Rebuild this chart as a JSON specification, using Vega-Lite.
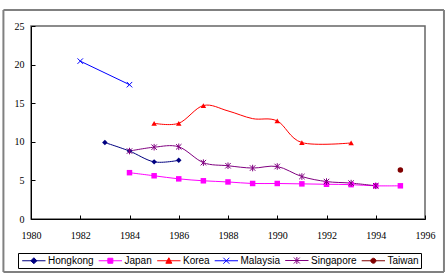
{
  "$schema": "https://vega.github.io/schema/vega-lite/v6.json",
  "width": 394,
  "height": 193,
  "autosize": {"type": "none"},
  "padding": {"left": 31, "top": 26, "right": 23, "bottom": 54},
  "background": "white",
  "data": {
    "values": [
      {"country": "Hongkong", "year": 1983, "value": 9.9},
      {"country": "Hongkong", "year": 1984, "value": 8.8},
      {"country": "Hongkong", "year": 1985, "value": 7.4},
      {"country": "Hongkong", "year": 1986, "value": 7.6},
      {"country": "Japan", "year": 1984, "value": 6.0},
      {"country": "Japan", "year": 1985, "value": 5.6},
      {"country": "Japan", "year": 1986, "value": 5.2},
      {"country": "Japan", "year": 1987, "value": 4.95},
      {"country": "Japan", "year": 1988, "value": 4.8},
      {"country": "Japan", "year": 1989, "value": 4.6},
      {"country": "Japan", "year": 1990, "value": 4.6},
      {"country": "Japan", "year": 1991, "value": 4.55},
      {"country": "Japan", "year": 1992, "value": 4.5},
      {"country": "Japan", "year": 1993, "value": 4.45},
      {"country": "Japan", "year": 1994, "value": 4.3},
      {"country": "Japan", "year": 1995, "value": 4.3},
      {"country": "Korea", "year": 1985, "value": 12.4},
      {"country": "Korea", "year": 1986, "value": 12.4},
      {"country": "Korea", "year": 1987, "value": 14.7},
      {"country": "Korea", "year": 1988, "value": 14.0},
      {"country": "Korea", "year": 1989, "value": 13.0},
      {"country": "Korea", "year": 1990, "value": 12.7},
      {"country": "Korea", "year": 1991, "value": 9.9},
      {"country": "Korea", "year": 1993, "value": 9.85},
      {"country": "Malaysia", "year": 1982, "value": 20.45},
      {"country": "Malaysia", "year": 1984, "value": 17.4},
      {"country": "Singapore", "year": 1984, "value": 8.8},
      {"country": "Singapore", "year": 1985, "value": 9.3},
      {"country": "Singapore", "year": 1986, "value": 9.35},
      {"country": "Singapore", "year": 1987, "value": 7.3},
      {"country": "Singapore", "year": 1988, "value": 6.9},
      {"country": "Singapore", "year": 1989, "value": 6.6},
      {"country": "Singapore", "year": 1990, "value": 6.8},
      {"country": "Singapore", "year": 1991, "value": 5.5},
      {"country": "Singapore", "year": 1992, "value": 4.85},
      {"country": "Singapore", "year": 1993, "value": 4.65},
      {"country": "Singapore", "year": 1994, "value": 4.3},
      {"country": "Taiwan", "year": 1995, "value": 6.35}
    ]
  },
  "layer": [
    {
      "data": {"values": [{}]},
      "mark": {"type": "rule", "color": "#808080", "strokeWidth": 2, "clip": false},
      "encoding": {
        "x": {"datum": 1978.88, "type": "quantitative"},
        "y": {"datum": 27.07, "type": "quantitative"},
        "y2": {"datum": -6.87}
      }
    },
    {
      "data": {"values": [{}]},
      "mark": {"type": "rule", "color": "#808080", "strokeWidth": 2, "clip": false},
      "encoding": {
        "x": {"datum": 1996.77, "type": "quantitative"},
        "y": {"datum": 27.07, "type": "quantitative"},
        "y2": {"datum": -6.87}
      }
    },
    {
      "data": {"values": [{}]},
      "mark": {"type": "rule", "color": "#808080", "strokeWidth": 2, "clip": false},
      "encoding": {
        "x": {"datum": 1978.88, "type": "quantitative"},
        "x2": {"datum": 1996.77},
        "y": {"datum": 27.07, "type": "quantitative"}
      }
    },
    {
      "data": {"values": [{}]},
      "mark": {"type": "rule", "color": "#808080", "strokeWidth": 2, "clip": false},
      "encoding": {
        "x": {"datum": 1978.88, "type": "quantitative"},
        "x2": {"datum": 1996.77},
        "y": {"datum": -6.87, "type": "quantitative"}
      }
    },
    {
      "encoding": {
        "x": {"field": "year", "type": "quantitative", "scale": {"domain": [1980, 1996], "nice": false, "zero": false}, "axis": {"title": null}},
        "y": {"field": "value", "type": "quantitative", "scale": {"domain": [0, 25], "nice": false}, "axis": {"title": null}}
      },
      "layer": [
        {
          "mark": {"type": "line", "interpolate": "cardinal", "strokeWidth": 1},
          "encoding": {
            "color": {
              "field": "country",
              "type": "nominal",
              "scale": {
                "domain": ["Hongkong", "Japan", "Korea", "Malaysia", "Singapore", "Taiwan"],
                "range": ["#000080", "#FF00FF", "#FF0000", "#0000FF", "#800080", "#800000"]
              },
              "legend": {
                "title": null,
                "orient": "none",
                "direction": "horizontal",
                "legendX": -13,
                "legendY": 227,
                "padding": 2,
                "strokeColor": "black",
                "fillColor": "white",
                "symbolSize": 100,
                "labelOffset": 17,
                "columnPadding": 2.5,
                "labelFontSize": 10,
                "labelFont": "Liberation Sans",
                "labelColor": "black",
                "labelLimit": 200,
                "symbolOpacity": 1,
                "encode": {
                  "symbols": {
                    "update": {
                      "shape": {"signal": "{'Hongkong': 'M-0.66,0H4M1.67,-0.6L2.27,0L1.67,0.6L1.07,0Z', 'Japan': 'M-0.66,0H4M1.17,-0.5H2.17V0.5H1.17Z', 'Korea': 'M-0.66,0H4M1.67,-0.6L2.27,0.5H1.07Z', 'Malaysia': 'M-0.66,0H4M1.07,-0.6L2.27,0.6M1.07,0.6L2.27,-0.6', 'Singapore': 'M-0.66,0H4M1.07,-0.6L2.27,0.6M1.07,0.6L2.27,-0.6M1.67,-0.7V0.7', 'Taiwan': 'M-0.66,0H4M2.17,0A0.5,0.5,0,1,1,1.17,0A0.5,0.5,0,1,1,2.17,0Z'}[datum.value]"},
                      "fill": {"scale": "color", "field": "value"},
                      "stroke": {"scale": "color", "field": "value"},
                      "strokeWidth": {"value": 1},
                      "opacity": {"value": 1}
                    }
                  }
                }
              }
            }
          }
        },
        {
          "transform": [{"filter": "datum.country == 'Hongkong'"}],
          "mark": {"type": "point", "shape": "diamond", "filled": true, "size": 30, "color": "#000080", "opacity": 1}
        },
        {
          "transform": [{"filter": "datum.country == 'Japan'"}],
          "mark": {"type": "point", "shape": "square", "filled": true, "size": 30, "color": "#FF00FF", "opacity": 1}
        },
        {
          "transform": [{"filter": "datum.country == 'Korea' && datum.year != 1988 && datum.year != 1989"}],
          "mark": {"type": "point", "shape": "triangle-up", "filled": true, "size": 30, "color": "#FF0000", "opacity": 1}
        },
        {
          "transform": [{"filter": "datum.country == 'Malaysia'"}],
          "mark": {"type": "point", "shape": "M-1,-1L1,1M-1,1L1,-1", "filled": false, "size": 30, "color": "#0000FF", "strokeWidth": 1, "opacity": 1}
        },
        {
          "transform": [{"filter": "datum.country == 'Singapore'"}],
          "mark": {"type": "point", "shape": "M-1,-1L1,1M-1,1L1,-1M0,-1.2V1.2", "filled": false, "size": 30, "color": "#800080", "strokeWidth": 1, "opacity": 1}
        },
        {
          "transform": [{"filter": "datum.country == 'Taiwan'"}],
          "mark": {"type": "point", "shape": "circle", "filled": true, "size": 30, "color": "#800000", "opacity": 1}
        }
      ]
    }
  ],
  "config": {
    "numberFormat": "d",
    "view": {"stroke": "#666666", "strokeWidth": 1.5},
    "axis": {
      "labelFont": "Liberation Sans Narrow",
      "labelFontSize": 10,
      "labelColor": "black",
      "grid": false,
      "domainColor": "black",
      "tickColor": "black",
      "tickSize": -4,
      "labelFlush": false,
      "labelOverlap": false,
      "labelBound": false
    },
    "axisX": {"labelPadding": 15, "tickCount": 8},
    "axisY": {"labelPadding": 11, "tickCount": 5}
  }
}
